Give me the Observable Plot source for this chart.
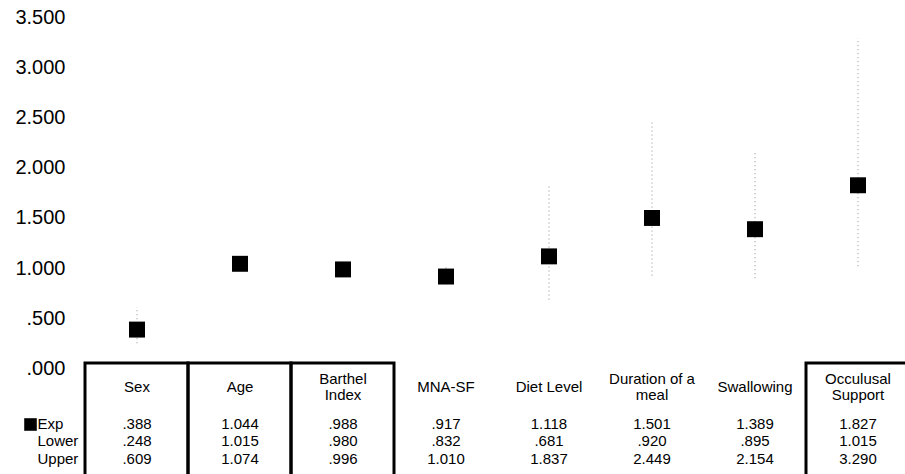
<!DOCTYPE html>
<html>
<head>
<meta charset="utf-8">
<script src="https://cdn.jsdelivr.net/npm/d3@7"></script>
<script src="https://cdn.jsdelivr.net/npm/@observablehq/plot@0.6"></script>
<style>
  html, body { margin: 0; padding: 0; background: #fff; overflow: hidden; }
  #chart svg { overflow: hidden; display: block; }
</style>
</head>
<body>
<div id="chart"></div>
<script>
// Odds ratios (Exp) with lower / upper confidence limits per predictor
const categories = ["Sex", "Age", "Barthel Index", "MNA-SF", "Diet Level", "Duration of a meal", "Swallowing", "Occulusal Support"];
const headerLines = ["Sex", "Age", "Barthel\nIndex", "MNA-SF", "Diet Level", "Duration of a\nmeal", "Swallowing", "Occulusal\nSupport"];
const expValues = [0.388, 1.044, 0.988, 0.917, 1.118, 1.501, 1.389, 1.827];
const lowerValues = [0.248, 1.015, 0.980, 0.832, 0.681, 0.920, 0.895, 1.015];
const upperValues = [0.609, 1.074, 0.996, 1.010, 1.837, 2.449, 2.154, 3.290];
const yTicks = [0, 0.5, 1, 1.5, 2, 2.5, 3, 3.5];
const rowLabels = ["Exp", "Lower", "Upper"];
const boxedCategories = ["Sex", "Age", "Barthel Index", "Occulusal Support"];

const records = categories.map((name, i) => ({
  name,
  header: headerLines[i],
  exp: expValues[i],
  lower: lowerValues[i],
  upper: upperValues[i]
}));

// SPSS-style number format: three decimals, no leading zero
const fmt = v => d3.format(".3f")(v).replace(/^0(?=\.)/, "");

const rowKeys = ["exp", "lower", "upper"];
const rowOffsets = [56, 73, 91];   // vertical offsets of table rows below the zero line

const chart = Plot.plot({
  width: 905,
  height: 474,
  marginLeft: 84,
  marginRight: 0,
  marginTop: 17,
  marginBottom: 106,
  style: {
    fontFamily: "'Liberation Sans', Arial, sans-serif",
    fontSize: "15px",
    color: "black",
    background: "white"
  },
  x: {type: "band", domain: categories, range: [84, 910], padding: 0, axis: null},
  y: {domain: [0, 3.5], range: [368, 17]},
  marks: [
    Plot.axisY({ticks: yTicks, tickFormat: fmt, tickSize: 0, tickPadding: 19, fontSize: 20, label: null}),
    // confidence interval as faint dotted rules
    Plot.ruleX(records, {x: "name", y1: "lower", y2: "upper", stroke: "#c4c4c4", strokeWidth: 1.5, strokeDasharray: "1.2,2.8"}),
    Plot.dot(records, {x: "name", y: "exp", symbol: "square", r: 9, fill: "black", stroke: "none"}),
    // data table under the chart
    Plot.text(records, {x: "name", y: 0, text: "header", dy: 18, lineAnchor: "middle", lineHeight: 1.07, fontSize: 15}),
    ...rowKeys.map((key, i) =>
      Plot.text(records, {x: "name", y: 0, text: d => fmt(d[key]), dy: rowOffsets[i], lineAnchor: "middle", fontSize: 15})
    ),
    ...rowLabels.map((label, i) =>
      Plot.text([label], {frameAnchor: "bottom-left", text: d => d, dx: -47, dy: rowOffsets[i], textAnchor: "start", lineAnchor: "middle", fontSize: 15})
    ),
    Plot.dot(["Exp"], {frameAnchor: "bottom-left", dx: -54, dy: rowOffsets[0], symbol: "square", r: 7.1, fill: "black", stroke: "none"}),
    Plot.barY(records.filter(d => boxedCategories.includes(d.name)), {
      x: "name", y1: 0, y2: 0, insetTop: -5, insetBottom: -120,
      fill: "none", stroke: "black", strokeWidth: 3
    })
  ]
});

document.getElementById("chart").append(chart);
</script>
</body>
</html>
